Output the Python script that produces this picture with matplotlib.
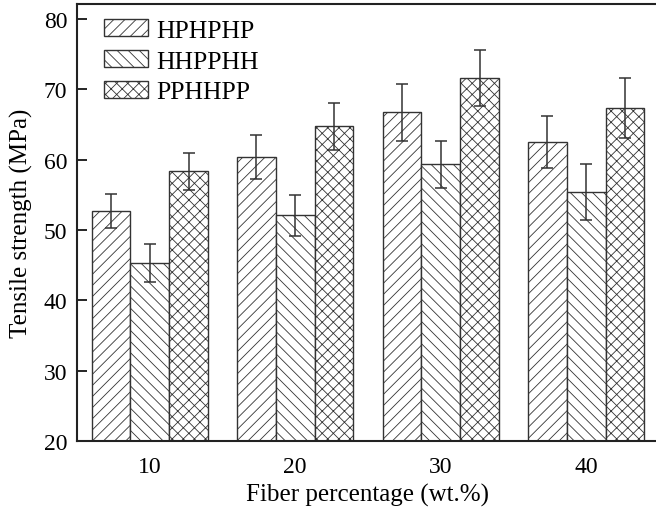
import matplotlib
matplotlib.use("Agg")
import matplotlib.pyplot as plt
import numpy as np

categories = [10, 20, 30, 40]
series_names = ["HPHPHP", "HHPPHH", "PPHHPP"]
hphphp = [52.7, 60.4, 66.7, 62.5]
hphphp_err = [2.4, 3.1, 4.0, 3.7]
hhpphh = [45.3, 52.1, 59.3, 55.4]
hhpphh_err = [2.7, 2.9, 3.4, 4.0]
pphhpp = [58.3, 64.7, 71.6, 67.3]
pphhpp_err = [2.65, 3.3, 4.0, 4.3]
y_ticks = [20, 30, 40, 50, 60, 70, 80]

plt.rcParams['font.family'] = ['Liberation Serif', 'DejaVu Serif']
plt.rcParams['hatch.linewidth'] = 0.6
plt.rcParams['hatch.color'] = '#555555'

fig = plt.figure(figsize=(6.56, 5.10), dpi=100)
ax = fig.add_axes([77/656, 68/510, 582/656, 437/510])

width = 8/3
x = np.array(categories, dtype=float)
values = [hphphp, hhpphh, pphhpp]
errs = [hphphp_err, hhpphh_err, pphhpp_err]
hatches = ['///', '\\\\\\', 'xxx']
for i, (v, e, h, name) in enumerate(zip(values, errs, hatches, series_names)):
    ax.bar(x + (i - 1) * width, v, width, color='white', edgecolor='#333333',
           linewidth=1.0, hatch=h, label=name, zorder=2)
    ax.errorbar(x + (i - 1) * width, v, yerr=e, fmt='none', ecolor='#333333',
                elinewidth=1.1, capsize=4, capthick=1.1, zorder=3)

ax.set_xlim(5, 45)
ax.set_ylim(20, 82.1)
ax.set_xticks(categories)
ax.set_xticklabels([str(c) for c in categories])
ax.set_yticks(y_ticks)
ax.tick_params(axis='y', direction='in', length=7, width=1.2, labelsize=17, pad=7)
ax.tick_params(axis='x', length=0, labelsize=17, pad=11)
for s in ax.spines.values():
    s.set_linewidth(1.5)
    s.set_color('#222222')

ax.set_xlabel("Fiber percentage (wt.%)", fontsize=18, labelpad=4)
ax.set_ylabel("Tensile strength (MPa)", fontsize=18, labelpad=8)

leg = ax.legend(loc='upper left', bbox_to_anchor=(27/582, 1 - 15/437),
                frameon=False, fontsize=18.5, handlelength=1.72,
                handleheight=0.66, handletextpad=0.3, labelspacing=0.32,
                borderaxespad=0.0, borderpad=0.0)

fig.savefig("out.png", dpi=100)
